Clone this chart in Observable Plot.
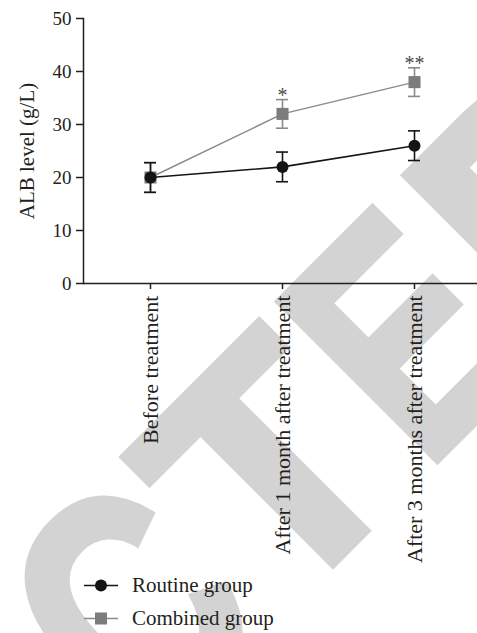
<!DOCTYPE html>
<html>
<head>
<meta charset="utf-8">
<script src="https://cdn.jsdelivr.net/npm/d3@7"></script>
<script src="https://cdn.jsdelivr.net/npm/@observablehq/plot@0.6"></script>
<style>
  body { margin: 0; background: #fff; }
  #wrap { position: relative; width: 477px; height: 633px; overflow: hidden; font-family: "Liberation Serif", serif; color: #231f20; }
  #wrap > svg.stamp { position: absolute; left: 0; top: 0; }
  #chart { position: absolute; left: 0; top: 0; }
  #legend { position: absolute; left: 0; top: 569px; }
  .row { display: flex; align-items: center; height: 33px; }
  .row span { font-size: 21px; line-height: 1; }
</style>
</head>
<body>
<div id="wrap"><div id="chart"></div><div id="legend"></div></div>
<script>
// Time points and group results (ALB, g/L, mean ± SD)
const stages = ["Before treatment", "After 1 month after treatment", "After 3 months after treatment"];
const routineMean = [20, 22, 26];
const routineSd = [2.8, 2.8, 2.8];
const combinedMean = [20, 32, 38];
const combinedSd = [2.8, 2.7, 2.7];
const significance = ["", "*", "**"];
const groups = ["Routine group", "Combined group"];
const yTicks = [0, 10, 20, 30, 40, 50];

const colors = {"Routine group": "#141414", "Combined group": "#8a8a8a"};
const fills = {"Routine group": "#141414", "Combined group": "#7c7c7c"};

const rows = (group, mean, sd) => stages.map((stage, i) => ({
  stage, group, mean: mean[i], lo: mean[i] - sd[i], hi: mean[i] + sd[i], sig: group === groups[1] ? significance[i] : ""
}));
const routine = rows(groups[0], routineMean, routineSd);
const combined = rows(groups[1], combinedMean, combinedSd);

// Faint "RETRACTED" stamp behind the figure, set letter by letter along a 45° baseline
const wrap = d3.select("#wrap");
const stamp = wrap.insert("svg", ":first-child").attr("class", "stamp").attr("width", 477).attr("height", 633);
const stampSize = 325;
const stampLetters = [
  {ch: "R", at: 0}, {ch: "E", at: 0.722}, {ch: "T", at: 1.389}, {ch: "R", at: 2.0}, {ch: "A", at: 2.722},
  {ch: "C", at: 3.585, sx: 0.77}, {ch: "T", at: 4.166}, {ch: "E", at: 4.8, sx: 0.76}, {ch: "D", at: 5.336}
];
const stampG = stamp.append("g").attr("transform", "translate(-678,1575) rotate(-45)");
stampLetters.forEach(l => {
  stampG.append("text")
    .attr("transform", `translate(${l.at * stampSize},0) scale(${l.sx || 1},1)`)
    .attr("font-family", "Liberation Sans, Arial, sans-serif")
    .attr("font-weight", "bold")
    .attr("font-size", stampSize)
    .attr("fill", "#d3d3d3")
    .attr("stroke", "#d3d3d3")
    .attr("stroke-width", 8)
    .attr("stroke-linejoin", "miter")
    .text(l.ch);
});

const errorMarks = (data, group) => [
  Plot.ruleX(data, {x: "stage", y1: "lo", y2: "hi", stroke: colors[group], strokeWidth: 1.6}),
  Plot.tickY(data, {x: "stage", y: "lo", stroke: colors[group], strokeWidth: 1.6, insetLeft: 60, insetRight: 60}),
  Plot.tickY(data, {x: "stage", y: "hi", stroke: colors[group], strokeWidth: 1.6, insetLeft: 60, insetRight: 60})
];

const chart = Plot.plot({
  width: 477,
  height: 566,
  marginTop: 18,
  marginLeft: 83,
  marginRight: 0,
  marginBottom: 283,
  style: {fontFamily: "Liberation Serif, serif", fontSize: "19px", background: "transparent", color: "#231f20", overflow: "visible"},
  x: {type: "band", domain: stages, range: [83, 481], padding: 0},
  y: {domain: [0, 50], range: [283, 18]},
  marks: [
    Plot.axisY({ticks: yTicks, tickSize: 7, tickPadding: 5, fontSize: 19, strokeWidth: 1.5,
      label: "ALB level (g/L)", labelAnchor: "center", labelOffset: 64, labelArrow: "none"}),
    Plot.axisX({tickRotate: -90, tickSize: 6, tickPadding: 6, fontSize: 22, strokeWidth: 1.5, label: null}),
    Plot.frame({anchor: "left", strokeWidth: 1.5}),
    Plot.ruleY([0], {strokeWidth: 1.5}),
    ...errorMarks(combined, groups[1]),
    Plot.line(combined, {x: "stage", y: "mean", stroke: colors[groups[1]], strokeWidth: 1.4}),
    Plot.dot(combined, {x: "stage", y: "mean", symbol: "square", r: 6.8, fill: fills[groups[1]], stroke: "none"}),
    Plot.text(combined.filter(d => d.sig), {x: "stage", y: "hi", text: "sig", dy: -4, fontSize: 20, fill: "#4a4a4a"}),
    ...errorMarks(routine, groups[0]),
    Plot.line(routine, {x: "stage", y: "mean", stroke: colors[groups[0]], strokeWidth: 1.6}),
    Plot.dot(routine, {x: "stage", y: "mean", symbol: "circle", r: 6, fill: fills[groups[0]], stroke: "none"})
  ]
});
// larger axis title
d3.select(chart).selectAll("g[aria-label='y-axis label'] text").attr("font-size", 21);
document.getElementById("chart").append(chart);

// Legend below the chart
const legend = d3.select("#legend");
groups.forEach(g => {
  const row = legend.append("div").attr("class", "row");
  const s = row.append("svg").attr("width", 132).attr("height", 33);
  s.append("line").attr("x1", 84).attr("x2", 118).attr("y1", 16.5).attr("y2", 16.5)
    .attr("stroke", colors[g]).attr("stroke-width", 1.6);
  if (g === groups[0]) {
    s.append("circle").attr("cx", 101).attr("cy", 16.5).attr("r", 6).attr("fill", fills[g]);
  } else {
    s.append("rect").attr("x", 95).attr("y", 10.5).attr("width", 12).attr("height", 12).attr("fill", fills[g]);
  }
  row.append("span").text(g);
});
</script>
</body>
</html>
